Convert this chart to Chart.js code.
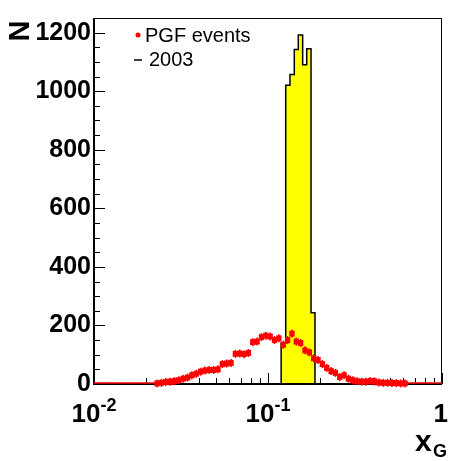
<!DOCTYPE html>
<html>
<head>
<meta charset="utf-8">
<script src="https://cdn.jsdelivr.net/npm/chart.js@4/dist/chart.umd.min.js"></script>
<style>
    body { margin: 0; background: #fff; }
    canvas { display: block; }
</style>
</head>
<body>
<canvas id="xgChart" width="449" height="461"></canvas>
<script>
// ---------------------------------------------------
// DATA
// ---------------------------------------------------
// PGF events: 80 log bins from 0.01 to 1
const pgfMin = 0.01;
const pgfMax = 1;
const pgfBins = 80;
const pgfCounts = [
    0, 0, 0, 0, 0, 0, 0, 0, 0, 0, 0, 0, 0, 0,
    2, 4, 7, 8, 10, 13, 18, 22, 30, 35,
    42, 46, 48, 48, 50, 68, 70, 72, 103, 104,
    102, 106, 143, 145, 160, 165, 162, 150, 156, 134,
    150, 172, 145, 140, 115, 108, 88, 82, 68, 55,
    44, 38, 24, 30, 18, 13, 9, 8, 8, 10,
    9, 5, 4, 4, 3, 3, 2, 2,
    0, 0, 0, 0, 0, 0, 0, 0
];

// 2003 histogram (yellow)
const edges2003 = [0.119, 0.1264, 0.1337, 0.1416, 0.1493, 0.1582, 0.1669, 0.1767, 0.1862];
const counts2003 = [140, 1020, 1057, 1142, 1192, 1090, 1145, 243];

// axis ticks
const yTicks = [0, 200, 400, 600, 800, 1000, 1200];
const xTickValues = [0.01, 0.1, 1];
const xTickBase = ["10", "10", "1"];
const xTickExp = ["-2", "-1", ""];

const FONT = "'Liberation Sans', Arial, Helvetica, sans-serif";

// bin edges of the PGF histogram
function pgfEdge(i) {
    const lmin = Math.log10(pgfMin), lmax = Math.log10(pgfMax);
    return Math.pow(10, lmin + (lmax - lmin) * i / pgfBins);
}

const pgfPoints = pgfCounts.map((n, i) => ({
    x: Math.sqrt(pgfEdge(i) * pgfEdge(i + 1)),
    y: n,
    lo: pgfEdge(i),
    hi: pgfEdge(i + 1)
}));

// step outline for the yellow histogram (value holds until next edge)
const histPoints = [{ x: edges2003[0], y: 0 }];
counts2003.forEach((n, i) => histPoints.push({ x: edges2003[i], y: n }));
histPoints.push({ x: edges2003[edges2003.length - 1], y: counts2003[counts2003.length - 1] });
histPoints.push({ x: edges2003[edges2003.length - 1], y: 0 });


// ---------------------------------------------------
// FRAME, TICKS, LABELS, ERROR BARS
// ---------------------------------------------------
const rootStyle = {
    id: "rootStyle",
    afterDatasetsDraw(chart) {
        const c = chart.ctx;
        const a = chart.chartArea;
        const xs = chart.scales.x;
        const ys = chart.scales.y;
        c.save();

        // frame
        c.strokeStyle = "#000";
        c.lineWidth = 1;
        c.strokeRect(a.left + 0.5, a.top + 0.5, a.right - a.left - 1, a.bottom - a.top);
        c.lineWidth = 2;
        c.beginPath();
        c.moveTo(a.left, a.top);
        c.lineTo(a.left, a.bottom);
        c.lineTo(a.right, a.bottom);
        c.stroke();

        // y ticks (inside)
        c.lineWidth = 1;
        for (let v = 0; v <= ys.max; v += 50) {
            const y = Math.round(ys.getPixelForValue(v)) + 0.5;
            const len = v % 200 === 0 ? 11 : 6;
            c.beginPath();
            c.moveTo(a.left, y);
            c.lineTo(a.left + len, y);
            c.stroke();
        }

        // x ticks (inside)
        for (let d = 0.01; d < 1.5; d *= 10) {
            for (let m = 1; m <= 9; m++) {
                const v = d * m;
                if (v > xs.max * 1.0001) break;
                const x = Math.round(xs.getPixelForValue(v)) + 0.5;
                const len = m === 1 ? 11 : 6;
                c.beginPath();
                c.moveTo(x, a.bottom);
                c.lineTo(x, a.bottom - len);
                c.stroke();
            }
        }

        // red PGF error boxes
        c.fillStyle = "#ff0000";
        c.strokeStyle = "#ff0000";
        pgfPoints.forEach(p => {
            const x1 = xs.getPixelForValue(p.lo);
            const x2 = xs.getPixelForValue(p.hi);
            const xc = xs.getPixelForValue(p.x);
            if (p.y > 0) {
                const y = ys.getPixelForValue(p.y);
                c.fillRect(x1 - 0.5, y - 3, x2 - x1 + 1, 6);
                c.lineWidth = 1.5;
                c.beginPath();
                c.moveTo(xc, y - 4);
                c.lineTo(xc, y + 4);
                c.stroke();
            } else {
                c.lineWidth = 1.5;
                c.beginPath();
                c.moveTo(x1, a.bottom - 1);
                c.lineTo(x2, a.bottom - 1);
                c.stroke();
            }
        });

        // x tick labels with exponents
        c.fillStyle = "#000";
        c.textBaseline = "alphabetic";
        c.textAlign = "left";
        xTickValues.forEach((v, i) => {
            c.font = "bold 26px " + FONT;
            const wb = c.measureText(xTickBase[i]).width;
            c.font = "bold 18px " + FONT;
            const we = xTickExp[i] ? c.measureText(xTickExp[i]).width : 0;
            let x0 = xs.getPixelForValue(v) - (wb + we) / 2;
            if (x0 + wb + we > chart.width - 1) x0 = chart.width - 1 - wb - we;
            c.font = "bold 26px " + FONT;
            c.fillText(xTickBase[i], x0, 422);
            if (xTickExp[i]) {
                c.font = "bold 18px " + FONT;
                c.fillText(xTickExp[i], x0 + wb, 411);
            }
        });

        // axis titles
        c.font = "bold 30px " + FONT;
        c.fillText("x", 415, 451);
        c.font = "bold 18px " + FONT;
        c.fillText("G", 433, 457);

        c.save();
        c.translate(21, 31);
        c.rotate(-Math.PI / 2);
        c.font = "bold 29px " + FONT;
        c.textAlign = "center";
        c.textBaseline = "middle";
        c.fillText("N", 0, 0);
        c.restore();

        // legend
        const ds = chart.data.datasets;
        c.font = "20px " + FONT;
        c.fillStyle = "#ff0000";
        c.beginPath();
        c.arc(138, 35, 2.5, 0, Math.PI * 2);
        c.fill();
        c.fillStyle = "#000";
        c.fillText(ds[0].label, 145, 42);

        c.strokeStyle = "#000";
        c.lineWidth = 1.5;
        c.beginPath();
        c.moveTo(134, 60);
        c.lineTo(142, 60);
        c.stroke();
        c.fillText(ds[1].label, 149, 66);

        c.restore();
    }
};


// ---------------------------------------------------
// CHART
// ---------------------------------------------------
const ctx = document.getElementById("xgChart");

new Chart(ctx, {
    type: "scatter",
    data: {
        datasets: [
            {
                label: "PGF events",
                data: pgfPoints,
                showLine: false,
                pointStyle: "rect",
                pointRadius: c => (c.raw && c.raw.y > 0 ? 2 : 0),
                pointBackgroundColor: "#ff0000",
                pointBorderWidth: 0
            },
            {
                label: "2003",
                type: "line",
                data: histPoints,
                showLine: true,
                stepped: "before",
                fill: "origin",
                backgroundColor: "#ffff00",
                borderColor: "#000",
                borderWidth: 1.5,
                pointRadius: 0
            }
        ]
    },
    options: {
        responsive: false,
        animation: false,
        layout: { padding: { top: 5, right: 7, left: 0, bottom: 0 } },
        plugins: {
            legend: { display: false },
            tooltip: { enabled: false }
        },
        scales: {
            x: {
                type: "logarithmic",
                min: 0.01,
                max: 1,
                grid: { display: false },
                border: { display: false },
                ticks: { display: false },
                afterFit: s => { s.height = 77; }
            },
            y: {
                type: "linear",
                min: 0,
                max: 1250,
                grid: { display: false, drawTicks: false },
                border: { display: false },
                afterBuildTicks: s => { s.ticks = yTicks.map(v => ({ value: v })); },
                ticks: {
                    autoSkip: false,
                    padding: 3,
                    color: "#000",
                    font: { family: FONT, size: 25, weight: "bold" },
                    callback: v => String(v)
                },
                afterFit: s => { s.width = 94; }
            }
        }
    },
    plugins: [rootStyle]
});
</script>
</body>
</html>
